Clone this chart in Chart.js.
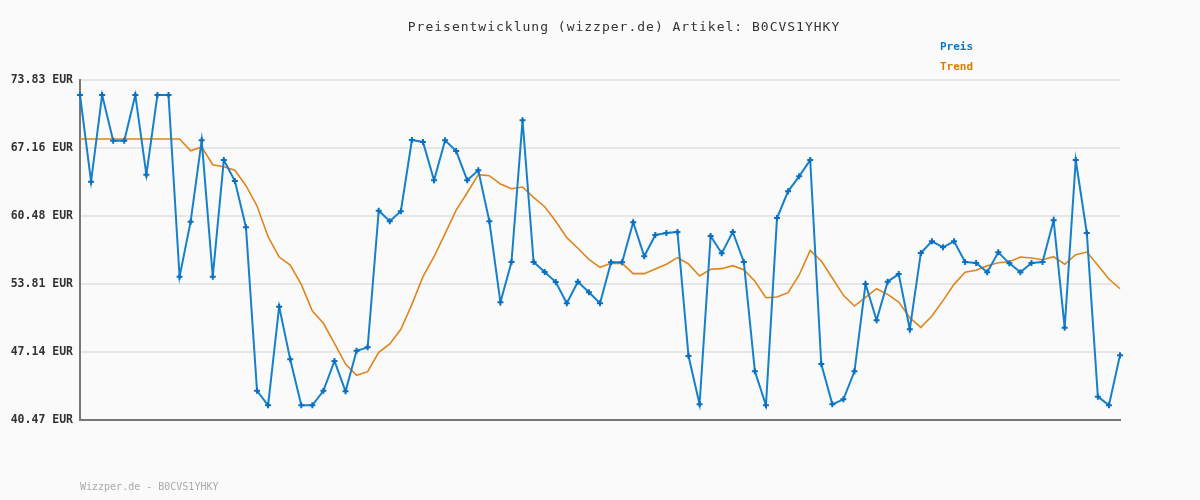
<!DOCTYPE html>
<html>
<head>
<meta charset="utf-8">
<script src="https://cdn.jsdelivr.net/npm/chart.js@4/dist/chart.umd.min.js"></script>
<style>
  html, body { margin: 0; padding: 0; background: #fafafa; }
  #wrap { width: 1200px; height: 500px; position: relative; }
</style>
</head>
<body>
<div id="wrap"><canvas id="c" width="1200" height="500"></canvas></div>
<script>
const titleText = "Preisentwicklung (wizzper.de) Artikel: B0CVS1YHKY";
const footerText = "Wizzper.de - B0CVS1YHKY";
const seriesNames = ["Preis", "Trend"];
const tickValues = [40.47, 47.14, 53.81, 60.48, 67.16, 73.83];

const preis = [
  72.36, 63.85, 72.36, 67.87, 67.87, 72.36, 64.54, 72.36, 72.36, 54.53,
  59.93, 67.91, 54.53, 65.98, 63.92, 59.38, 43.34, 41.91, 51.59, 46.42,
  41.91, 41.91, 43.34, 46.26, 43.28, 47.27, 47.60, 61.01, 59.97, 60.95,
  67.94, 67.75, 63.99, 67.91, 66.86, 63.99, 64.97, 59.97, 52.02, 55.97,
  69.88, 55.97, 54.99, 54.01, 51.92, 54.04, 53.00, 51.92, 55.94, 55.94,
  59.87, 56.53, 58.62, 58.82, 58.92, 46.75, 42.01, 58.52, 56.82, 58.92,
  55.97, 45.25, 41.91, 60.29, 62.91, 64.38, 65.98, 45.96, 42.01, 42.50,
  45.25, 53.81, 50.25, 54.04, 54.79, 49.37, 56.86, 58.00, 57.41, 58.00,
  55.97, 55.87, 54.96, 56.92, 55.84, 54.96, 55.87, 55.97, 60.06, 49.53,
  65.98, 58.82, 42.76, 41.91, 46.82
];

const trend = [
  68.04, 68.04, 68.04, 68.04, 68.04, 68.04, 68.04, 68.04, 68.04, 68.04,
  66.89, 67.25, 65.52, 65.32, 64.97, 63.46, 61.47, 58.46, 56.46, 55.68,
  53.78, 51.16, 49.96, 47.99, 45.96, 44.86, 45.21, 47.11, 47.93, 49.37,
  51.82, 54.53, 56.49, 58.75, 61.07, 62.77, 64.54, 64.44, 63.63, 63.16,
  63.33, 62.32, 61.40, 59.97, 58.36, 57.32, 56.24, 55.45, 55.84, 55.84,
  54.83, 54.83, 55.29, 55.75, 56.40, 55.78, 54.60, 55.26, 55.32, 55.61,
  55.22, 54.08, 52.47, 52.54, 52.96, 54.70, 57.12, 56.07, 54.40, 52.70,
  51.65, 52.51, 53.35, 52.80, 52.05, 50.51, 49.56, 50.67, 52.18, 53.78,
  54.96, 55.16, 55.61, 55.90, 56.00, 56.46, 56.36, 56.20, 56.49, 55.75,
  56.69, 56.95, 55.65, 54.30, 53.35
];

const categories = preis.map((_, i) => String(i + 1));

const textPlugin = {
  id: 'texts',
  afterDraw(chart) {
    const ctx = chart.ctx;
    ctx.save();
    ctx.textBaseline = 'middle';
    // title
    ctx.font = '13px "DejaVu Sans Mono", monospace';
    ctx.fillStyle = '#333333';
    ctx.textAlign = 'center';
    if ('letterSpacing' in ctx) ctx.letterSpacing = '1px';
    ctx.fillText(titleText, 624, 28);
    // legend
    if ('letterSpacing' in ctx) ctx.letterSpacing = '0px';
    ctx.textAlign = 'left';
    ctx.font = 'bold 11px "DejaVu Sans Mono", monospace';
    ctx.fillStyle = '#0a78c8';
    ctx.fillText(seriesNames[0], 940, 47);
    ctx.fillStyle = '#dd7a00';
    ctx.fillText(seriesNames[1], 940, 67);
    // footer
    ctx.font = '10px "DejaVu Sans Mono", monospace';
    ctx.fillStyle = '#aaaaaa';
    ctx.fillText(footerText, 80, 487);
    ctx.restore();
  }
};

new Chart(document.getElementById('c'), {
  type: 'line',
  data: {
    labels: categories,
    datasets: [
      {
        label: seriesNames[0],
        data: preis,
        borderColor: '#1580cc',
        backgroundColor: '#0a6fc0',
        borderWidth: 2,
        pointStyle: 'cross',
        pointRadius: 3,
        pointBorderWidth: 2,
        pointBorderColor: '#0a6fc0',
        tension: 0,
        order: 1
      },
      {
        label: seriesNames[1],
        data: trend,
        borderColor: '#e0841c',
        backgroundColor: '#e0841c',
        borderWidth: 1.6,
        pointRadius: 0,
        tension: 0,
        order: 2
      }
    ]
  },
  options: {
    responsive: false,
    animation: false,
    devicePixelRatio: 1,
    layout: { padding: { top: 80, right: 80, bottom: 0, left: 0 } },
    plugins: {
      legend: { display: false },
      title: { display: false },
      tooltip: { enabled: false }
    },
    scales: {
      x: {
        type: 'category',
        offset: false,
        grid: { display: false, drawTicks: false },
        border: { display: true, color: '#777777', width: 2 },
        ticks: { display: false },
        afterFit(scale) { scale.height = 80; }
      },
      y: {
        min: tickValues[0],
        max: tickValues[tickValues.length - 1],
        afterBuildTicks(scale) {
          scale.ticks = tickValues.map(v => ({ value: v }));
        },
        grid: { color: '#e6e6e6', lineWidth: 2, drawTicks: false },
        border: { display: true, color: '#777777', width: 2 },
        ticks: {
          padding: 7,
          color: '#333333',
          font: { family: '"DejaVu Sans Mono", monospace', size: 11.5, weight: 'bold' },
          callback: (v) => Number(v).toFixed(2) + ' EUR'
        },
        afterFit(scale) { scale.width = 80; }
      }
    }
  },
  plugins: [textPlugin]
});
</script>
</body>
</html>
